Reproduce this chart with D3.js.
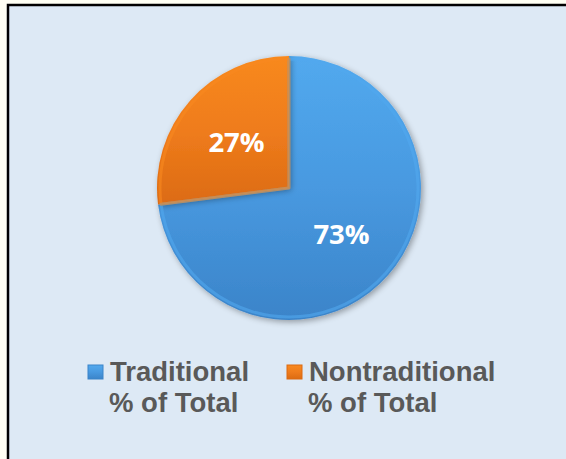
<!DOCTYPE html>
<html>
<head>
<meta charset="utf-8">
<script src="https://cdn.jsdelivr.net/npm/d3@7"></script>
<style>
  body { margin: 0; background: #fffff3; }
  svg { display: block; }
</style>
</head>
<body>
<svg id="chart"></svg>
<script>
const categories = ['Traditional % of Total', 'Nontraditional % of Total'];
const legendLines = [['Traditional', '% of Total'], ['Nontraditional', '% of Total']];
const values = [73, 27];
const colors = ['#4899e0', '#ef7c1c'];
const lightColors = ['#52a9ee', '#f8891f'];
const darkColors = ['#3b84c9', '#dc6b12'];

let width = 566;
let height = 459;
let cx = 289;
let cy = 188;
let radius = 132;

let svg = d3.select('#chart')
    .attr('width', width)
    .attr('height', height);

// chart area + frame
svg.append('rect')
    .attr('x', 8).attr('y', 5)
    .attr('width', width - 8).attr('height', height - 5)
    .attr('fill', '#dde9f5');
svg.append('path')
    .attr('d', `M8,${height} V5 H${width}`)
    .attr('fill', 'none')
    .attr('stroke', '#000')
    .attr('stroke-width', 2.5);

let defs = svg.append('defs');
colors.forEach((c, i) => {
    let g = defs.append('linearGradient')
        .attr('id', 'grad' + i)
        .attr('x1', 0).attr('y1', 0).attr('x2', 0).attr('y2', 1);
    g.append('stop').attr('offset', '0%').attr('stop-color', lightColors[i]);
    g.append('stop').attr('offset', '50%').attr('stop-color', c);
    g.append('stop').attr('offset', '100%').attr('stop-color', darkColors[i]);
});

let shadow = defs.append('filter').attr('id', 'shadow')
    .attr('x', '-20%').attr('y', '-20%').attr('width', '140%').attr('height', '140%');
shadow.append('feGaussianBlur').attr('in', 'SourceAlpha').attr('stdDeviation', 3);
shadow.append('feOffset').attr('dx', 2).attr('dy', 2).attr('result', 'blur');
shadow.append('feComponentTransfer').append('feFuncA').attr('type', 'linear').attr('slope', 0.35);
let merge = shadow.append('feMerge');
merge.append('feMergeNode');
merge.append('feMergeNode').attr('in', 'SourceGraphic');

const pie = d3.pie().sort(null).value(d => d);
const arcs = pie(values);
const arc = d3.arc().innerRadius(0).outerRadius(radius);
const innerArc = d3.arc().innerRadius(0).outerRadius(radius - 3);
const labelArc = d3.arc().innerRadius(70).outerRadius(70);

let pieG = svg.append('g')
    .attr('transform', `translate(${cx},${cy})`);

pieG.selectAll('path.slice')
    .data(arcs)
    .enter()
    .append('path')
    .attr('class', 'slice')
    .attr('d', arc)
    .attr('fill', (d, i) => 'url(#grad' + i + ')')
    .attr('filter', 'url(#shadow)');

// bevel highlight
pieG.selectAll('path.bevel')
    .data(arcs)
    .enter()
    .append('path')
    .attr('class', 'bevel')
    .attr('d', innerArc)
    .attr('fill', 'none')
    .attr('stroke', (d, i) => lightColors[i])
    .attr('stroke-opacity', 0.6)
    .attr('stroke-width', 3)
    .attr('stroke-linejoin', 'round');

pieG.selectAll('text')
    .data(arcs)
    .enter()
    .append('text')
    .attr('transform', d => `translate(${labelArc.centroid(d)})`)
    .attr('text-anchor', 'middle')
    .attr('dy', '0.36em')
    .attr('fill', '#fff')
    .attr('font-family', '"Open Sans", sans-serif')
    .attr('font-weight', 'bold')
    .attr('font-size', 27.5)
    .text(d => d.value + '%');

// legend
const legendX = [88, 287];
let legend = svg.selectAll('g.legend')
    .data(categories)
    .enter()
    .append('g')
    .attr('class', 'legend')
    .attr('transform', (d, i) => `translate(${legendX[i]},365)`);

legend.append('rect')
    .attr('width', 15).attr('height', 14)
    .attr('fill', (d, i) => 'url(#grad' + i + ')')
    .attr('stroke', (d, i) => darkColors[i])
    .attr('stroke-width', 1);

legend.each(function (d, i) {
    let t = d3.select(this).append('text')
        .attr('fill', '#595959')
        .attr('font-family', '"Liberation Sans", Arial, sans-serif')
        .attr('font-weight', 'bold')
        .attr('font-size', 27.5);
    t.append('tspan').attr('x', 22).attr('y', 16).text(legendLines[i][0]);
    t.append('tspan').attr('x', 21).attr('y', 47).text(legendLines[i][1]);
});
</script>
</body>
</html>
